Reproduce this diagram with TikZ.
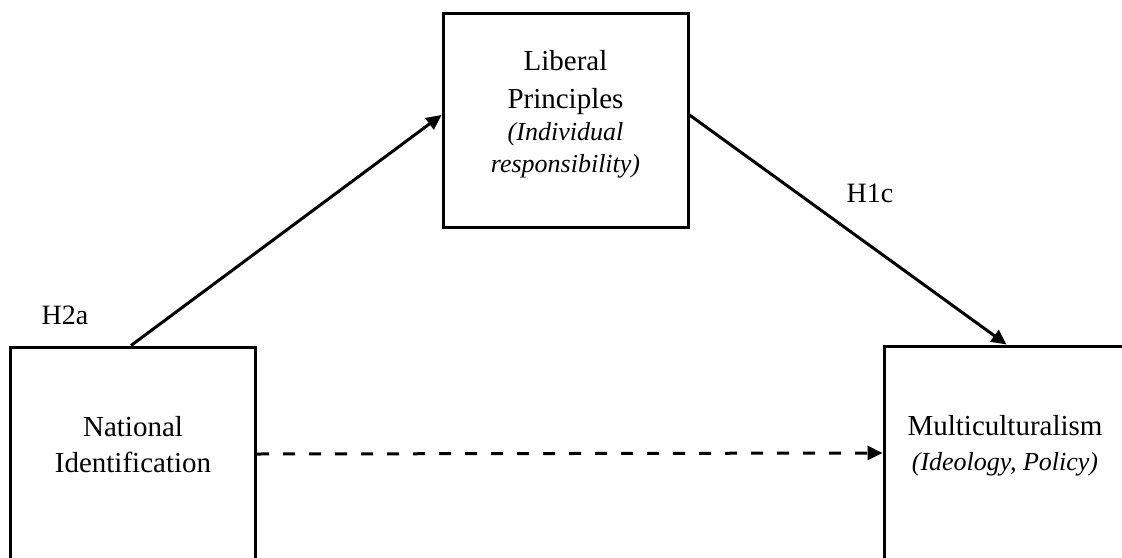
\documentclass[tikz,border=0pt]{standalone}
\usepackage{fontspec}
\setmainfont{Liberation Serif}
\usetikzlibrary{arrows.meta}
\newcommand\itsz{\fontsize{26}{33}\selectfont\itshape}
\tikzset{
  x=1pt, y=-1pt,
  varbox/.style={draw, line width=3pt, minimum width=245pt, minimum height=214pt, inner sep=0pt},
  txt/.style={align=center, font=\fontsize{29}{36}\selectfont, inner sep=0pt},
  hyp/.style={font=\fontsize{28}{34}\selectfont, inner sep=0pt},
  path/.style={line width=3pt, -{Triangle[length=15pt,width=14pt]}},
  direct/.style={path, dash pattern=on 12pt off 14pt},
}
\begin{document}
\begin{tikzpicture}
\clip (0,0) rectangle (1122,557);
\fill[white] (0,0) rectangle (1122,557);

% the three variables
\node[varbox] (ni) at (133,454) {};
\node[varbox] (lp) at (565.5,120) {};
\node[varbox] (mc) at (1006.5,453) {};

\node[txt] (nit) at (133,445) {National\\Identification};
\node[txt] (lpt) at (565.5,114) {Liberal\\[2pt]Principles\\[-4pt]\itsz(Individual\\[-4pt]\itsz responsibility)};
\node[txt] (mct) at (1005,446) {Multiculturalism\\[-1pt]\itsz(Ideology, Policy)};

% paths between the variables
\draw[path] ([xshift=-2pt]ni.north) -- ([yshift=5pt]lp.west);
\draw[path] ([yshift=5pt]lp.east) -- (mc.north);
\draw[direct] (ni.east) -- (mc.west);

% hypothesis labels
\node[hyp] (h2a) at (65,315) {H2a};
\node[hyp] (h1c) at (870,193) {H1c};
\end{tikzpicture}
\end{document}
